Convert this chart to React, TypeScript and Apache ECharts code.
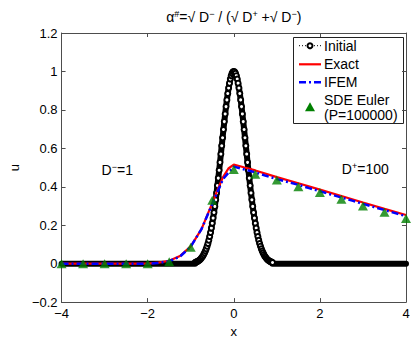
import React, { useEffect, useRef } from "react";
import * as echarts from "echarts";

// Initial condition
const initX = [
  -0.9, -0.88, -0.86, -0.84, -0.82, -0.8, -0.78, -0.76, -0.74, -0.72, -0.7, -0.68, -0.66, -0.64, -0.62,
  -0.6, -0.58, -0.56, -0.54, -0.52, -0.5, -0.48, -0.46, -0.44, -0.42, -0.4, -0.38, -0.36, -0.34, -0.32,
  -0.3, -0.28, -0.26, -0.24, -0.22, -0.2, -0.18, -0.16, -0.14, -0.12, -0.1, -0.08, -0.06, -0.04, -0.02,
  0, 0.02, 0.04, 0.06, 0.08, 0.1, 0.12, 0.14, 0.16, 0.18, 0.2, 0.22, 0.24, 0.26, 0.28, 0.3, 0.32, 0.34,
  0.36, 0.38, 0.4, 0.42, 0.44, 0.46, 0.48, 0.5, 0.52, 0.54, 0.56, 0.58, 0.6, 0.62, 0.64, 0.66, 0.68, 0.7,
  0.72, 0.74, 0.76, 0.78, 0.8, 0.82, 0.84, 0.86, 0.88, 0.9,
];
const initU = [
  0.006, 0.008, 0.01, 0.012, 0.015, 0.018, 0.022, 0.027, 0.033, 0.039, 0.047, 0.056, 0.066, 0.077, 0.091,
  0.105, 0.122, 0.141, 0.162, 0.185, 0.21, 0.237, 0.266, 0.298, 0.332, 0.368, 0.406, 0.445, 0.486, 0.527,
  0.57, 0.613, 0.655, 0.698, 0.739, 0.779, 0.817, 0.852, 0.885, 0.914, 0.939, 0.961, 0.978, 0.99, 0.998,
  1.0, 0.998, 0.99, 0.978, 0.961, 0.939, 0.914, 0.885, 0.852, 0.817, 0.779, 0.739, 0.698, 0.655, 0.613,
  0.57, 0.527, 0.486, 0.445, 0.406, 0.368, 0.332, 0.298, 0.266, 0.237, 0.21, 0.185, 0.162, 0.141, 0.122,
  0.105, 0.091, 0.077, 0.066, 0.056, 0.047, 0.039, 0.033, 0.027, 0.022, 0.018, 0.015, 0.012, 0.01, 0.008,
  0.006,
];
const initBaseLeft = [[-4, 0], [-0.9, 0]];
const initBaseRight = [[0.9, 0], [4, 0]];

// Exact solution
const exactX = [-4, -2, -1.75, -1.5, -1.25, -1, -0.75, -0.5, -0.375, -0.25, -0.125, 0, 0.125, 0.25, 0.5, 1, 1.5, 2, 2.5, 3, 3.5, 4];
const exactU = [0, 0, 0.005, 0.015, 0.04, 0.09, 0.18, 0.315, 0.385, 0.45, 0.495, 0.515, 0.508, 0.5, 0.485, 0.45, 0.418, 0.385, 0.352, 0.318, 0.285, 0.253];

// IFEM
const ifemX = [-4, -3.75, -3.5, -3.25, -3, -2.75, -2.5, -2.25, -2, -1.75, -1.5, -1.25, -1, -0.75, -0.5, -0.25, 0, 0.25, 0.5, 0.75, 1, 1.25, 1.5, 1.75, 2, 2.25, 2.5, 2.75, 3, 3.25, 3.5, 3.75, 4];
const ifemU = [0, 0, 0, 0, 0, 0, 0, 0, 0, 0.004, 0.013, 0.037, 0.088, 0.18, 0.31, 0.44, 0.505, 0.49, 0.475, 0.457, 0.44, 0.425, 0.41, 0.393, 0.377, 0.36, 0.344, 0.328, 0.311, 0.295, 0.279, 0.263, 0.247];

// SDE Euler (P=100000)
const sdeX = [-4, -3.5, -3, -2.5, -2, -1.5, -1, -0.5, 0, 0.5, 1, 1.5, 2, 2.5, 3, 3.5, 4];
const sdeU = [0, 0, 0, 0, 0, 0.01, 0.085, 0.33, 0.49, 0.465, 0.435, 0.4, 0.37, 0.335, 0.3, 0.268, 0.235];

const legendNames = ["Initial", "Exact", "IFEM", "SDE Euler\n(P=100000)"];
const xTicks = { min: -4, max: 4, interval: 2 };
const yTicks = { min: -0.2, max: 1.2, interval: 0.2 };

const FONT = "'Liberation Sans', Arial, Helvetica, sans-serif";
const AXIS_COLOR = "#4d4d4d";
const RED = "#ff0000";
const BLUE = "#0000ff";
const GREEN = "#008000";
const IFEM_DASH = [7, 3, 2, 3];

const zip = (xs: number[], ys: number[]) => xs.map((x, i) => [x, ys[i]]);
const fmt = (v: number) => {
  const r = Math.round(v * 10) / 10;
  return r < 0 ? "\u2212" + String(-r) : String(r);
};

export default function App() {
  const ref = useRef<HTMLDivElement>(null);
  useEffect(() => {
    if (!ref.current) return;
    const chart = echarts.init(ref.current, null, { renderer: "svg" });
    const initData = zip(initX, initU);
    const bandData = [...initBaseLeft, ...initData, ...initBaseRight];
    const supStyle = { fontSize: 9, fontFamily: FONT, color: "#000", verticalAlign: "top" as const, lineHeight: 15 };
    const nStyle = { fontSize: 14, fontFamily: FONT, color: "#000", lineHeight: 15 };
    const axisCommon = {
      axisLine: { show: true, onZero: false, lineStyle: { color: AXIS_COLOR, width: 1 } },
      axisTick: { show: true, inside: true, length: 4, lineStyle: { color: AXIS_COLOR } },
      splitLine: { show: false },
    };

    chart.setOption({
      animation: false,
      grid: { left: 52, right: 9, top: 33, bottom: 37, containLabel: false },
      xAxis: [
        {
          type: "value", ...xTicks, position: "bottom", ...axisCommon,
          axisLabel: { fontSize: 13, fontFamily: FONT, color: "#000", margin: 5, formatter: fmt },
          name: "x", nameLocation: "middle", nameGap: 18,
          nameTextStyle: { fontSize: 13, fontFamily: FONT, color: "#000" },
        },
        { type: "value", ...xTicks, position: "top", ...axisCommon, axisLabel: { show: false } },
      ],
      yAxis: [
        {
          type: "value", ...yTicks, position: "left", ...axisCommon,
          axisLabel: { fontSize: 13, fontFamily: FONT, color: "#000", margin: 4, formatter: fmt },
          name: "u", nameLocation: "middle", nameGap: 35,
          nameTextStyle: { fontSize: 13, fontFamily: FONT, color: "#000" },
        },
        { type: "value", ...yTicks, position: "right", ...axisCommon, axisLabel: { show: false } },
      ],
      series: [
        {
          name: "Initial base", type: "line", data: bandData, symbol: "none",
          lineStyle: { color: "#000", width: 6, cap: "round", join: "round" }, silent: true, z: 1,
        },
        {
          name: legendNames[0], type: "line", data: initData, symbol: "emptyCircle", symbolSize: 5,
          itemStyle: { color: "#000", borderColor: "#000", borderWidth: 2 },
          lineStyle: { color: "#000", width: 1, type: "dotted" }, z: 2,
        },
        {
          name: legendNames[1], type: "line", data: zip(exactX, exactU), symbol: "none",
          lineStyle: { color: RED, width: 2.2 }, itemStyle: { color: RED }, z: 3,
        },
        {
          name: legendNames[2], type: "line", data: zip(ifemX, ifemU), symbol: "none",
          lineStyle: { color: BLUE, width: 2.5, type: IFEM_DASH }, itemStyle: { color: BLUE }, z: 4,
        },
        {
          name: legendNames[3], type: "scatter", data: zip(sdeX, sdeU), symbol: "triangle",
          symbolSize: [10, 9], itemStyle: { color: GREEN }, z: 5,
        },
      ],
    });

    const pL = chart.convertToPixel({ gridIndex: 0 }, [-3.07, 0.486]) as number[];
    const pR = chart.convertToPixel({ gridIndex: 0 }, [2.51, 0.49]) as number[];
    const pT = chart.convertToPixel({ gridIndex: 0 }, [0, 1.2]) as number[];

    // legend box drawn as graphic
    const lx = 293, ly = 37, lw = 110, lh = 86;
    const ix0 = 299, ix1 = 321, tx = 324;
    const rows = [45.7, 64.3, 82.3, 107.3];
    const legendText = { fontSize: 14, fontFamily: FONT, fill: "#000" };
    chart.setOption({
      graphic: [
        {
          type: "text", x: pT[0], y: 17, z: 100,
          style: {
            text: "{n|α}{s|#}{n|=√ D}{s|−}{n| / (√ D}{s|+}{n| +√ D}{s|−}{n|)}",
            rich: { n: nStyle, s: supStyle }, align: "center", verticalAlign: "middle",
          },
        },
        {
          type: "text", x: pL[0], y: pL[1], z: 100,
          style: { text: "{n|D}{s|−}{n|=1}", rich: { n: nStyle, s: supStyle }, align: "left", verticalAlign: "middle" },
        },
        {
          type: "text", x: pR[0], y: pR[1], z: 100,
          style: { text: "{n|D}{s|+}{n|=100}", rich: { n: nStyle, s: supStyle }, align: "left", verticalAlign: "middle" },
        },
        {
          type: "group", z: 100,
          children: [
            { type: "rect", shape: { x: lx + 0.5, y: ly + 0.5, width: lw, height: lh }, style: { fill: "#fff", stroke: "#222", lineWidth: 1 } },
            { type: "line", shape: { x1: ix0, y1: rows[0], x2: ix1, y2: rows[0] }, style: { stroke: "#000", lineWidth: 1, lineDash: [1, 2] } },
            { type: "circle", shape: { cx: (ix0 + ix1) / 2, cy: rows[0], r: 2.5 }, style: { fill: "#fff", stroke: "#000", lineWidth: 2 } },
            { type: "text", x: tx, y: rows[0], style: { ...legendText, text: legendNames[0], verticalAlign: "middle" } },
            { type: "line", shape: { x1: ix0, y1: rows[1], x2: ix1, y2: rows[1] }, style: { stroke: RED, lineWidth: 2.2 } },
            { type: "text", x: tx, y: rows[1], style: { ...legendText, text: legendNames[1], verticalAlign: "middle" } },
            { type: "line", shape: { x1: ix0, y1: rows[2], x2: ix1, y2: rows[2] }, style: { stroke: BLUE, lineWidth: 2.5, lineDash: IFEM_DASH } },
            { type: "text", x: tx, y: rows[2], style: { ...legendText, text: legendNames[2], verticalAlign: "middle" } },
            { type: "polygon", shape: { points: [[(ix0 + ix1) / 2 - 5, rows[3] + 4], [(ix0 + ix1) / 2 + 5, rows[3] + 4], [(ix0 + ix1) / 2, rows[3] - 5]] }, style: { fill: GREEN } },
            { type: "text", x: tx, y: rows[3], style: { ...legendText, text: legendNames[3], lineHeight: 15.5, verticalAlign: "middle" } },
          ],
        },
      ],
    });
    return () => chart.dispose();
  }, []);
  return <div ref={ref} style={{ width: 415, height: 343, position: "absolute", left: 0, top: 0 }} />;
}
